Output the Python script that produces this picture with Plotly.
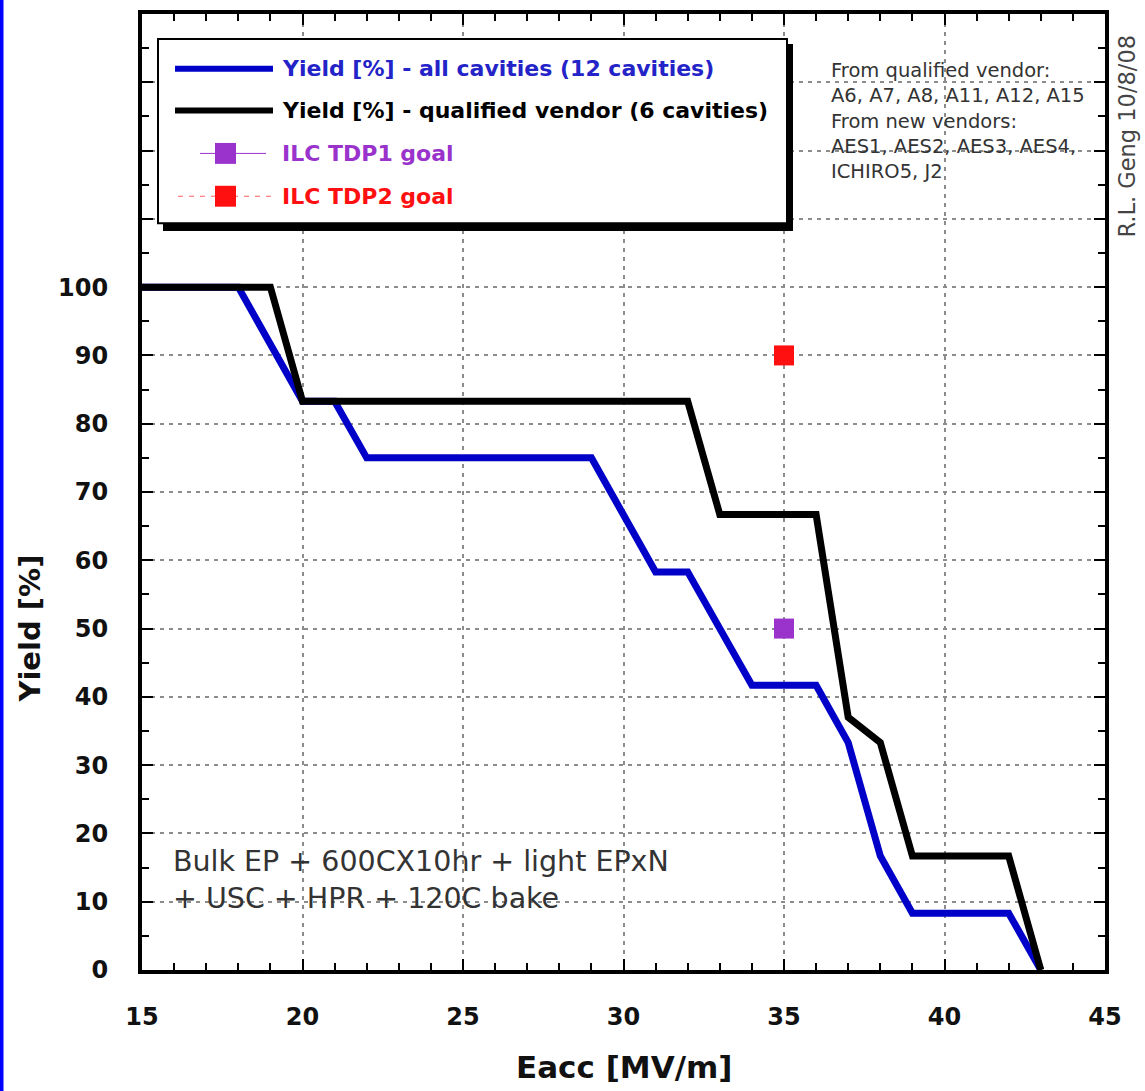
import plotly.graph_objects as go

# ---------------- data ----------------
all_x = [15, 18, 20, 21, 22, 29, 31, 32, 34, 36, 37, 38, 39, 42, 43]
all_y = [100, 100, 83.3, 83.3, 75, 75, 58.3, 58.3, 41.7, 41.7, 33.3, 16.7, 8.3, 8.3, 0]
qual_x = [15, 19, 20, 32, 33, 36, 37, 38, 39, 42, 43]
qual_y = [100, 100, 83.3, 83.3, 66.7, 66.7, 37, 33.3, 16.7, 16.7, 0]
tdp1_x = [35]
tdp1_y = [50]
tdp2_x = [35]
tdp2_y = [90]

x_ticks = [15, 20, 25, 30, 35, 40, 45]
y_ticks = [0, 10, 20, 30, 40, 50, 60, 70, 80, 90, 100, 110, 120, 130, 140]
y_ticktext = [str(v) if v <= 100 else "" for v in y_ticks]

BLUE = "#0000c8"
PURPLE = "#9933cc"
RED = "#ff1010"

# ---------------- layout helpers (pixel -> paper) ----------------
W, H = 1145, 1091
L, R, T, B = 142, 1105, 10, 970


def px(x):
    return (x - L) / (R - L)


def py(y):
    return (B - y) / (B - T)


fig = go.Figure()
fig.add_trace(go.Scatter(x=all_x, y=all_y, mode="lines",
                         line=dict(color=BLUE, width=7), showlegend=False))
fig.add_trace(go.Scatter(x=qual_x, y=qual_y, mode="lines",
                         line=dict(color="black", width=7), showlegend=False))
fig.add_trace(go.Scatter(x=tdp1_x, y=tdp1_y, mode="markers",
                         marker=dict(symbol="square", size=20, color=PURPLE), showlegend=False))
fig.add_trace(go.Scatter(x=tdp2_x, y=tdp2_y, mode="markers",
                         marker=dict(symbol="square", size=20, color=RED), showlegend=False))

shapes = []
# blue strip at left edge of image
shapes.append(dict(type="rect", xref="paper", yref="paper",
                   x0=px(0), x1=px(3.5), y0=py(H + 5), y1=py(-5),
                   fillcolor="#0000ff", line=dict(width=0), layer="above"))
# legend box shadow + box
shapes.append(dict(type="rect", xref="paper", yref="paper",
                   x0=px(163), x1=px(793), y0=py(228), y1=py(40),
                   fillcolor="black", line=dict(width=0), layer="above"))
shapes.append(dict(type="rect", xref="paper", yref="paper",
                   x0=px(158), x1=px(787), y0=py(220), y1=py(35),
                   fillcolor="white", line=dict(color="black", width=2), layer="above"))
# legend samples
shapes.append(dict(type="line", xref="paper", yref="paper",
                   x0=px(175), x1=px(273), y0=py(65), y1=py(65),
                   line=dict(color=BLUE, width=6), layer="above"))
shapes.append(dict(type="line", xref="paper", yref="paper",
                   x0=px(175), x1=px(273), y0=py(107), y1=py(107),
                   line=dict(color="black", width=6), layer="above"))
shapes.append(dict(type="line", xref="paper", yref="paper",
                   x0=px(200), x1=px(266), y0=py(150), y1=py(150),
                   line=dict(color=PURPLE, width=1), layer="above"))
shapes.append(dict(type="rect", xref="paper", yref="paper",
                   x0=px(215), x1=px(236), y0=py(160.5), y1=py(139.5),
                   fillcolor=PURPLE, line=dict(width=0), layer="above"))
shapes.append(dict(type="line", xref="paper", yref="paper",
                   x0=px(178), x1=px(273), y0=py(193), y1=py(193),
                   line=dict(color="#ff6060", width=1, dash="5px,6px"), layer="above"))
shapes.append(dict(type="rect", xref="paper", yref="paper",
                   x0=px(215), x1=px(236), y0=py(203.5), y1=py(182.5),
                   fillcolor=RED, line=dict(width=0), layer="above"))

bold = dict(family="DejaVu Sans", weight="bold")
annotations = []
leg_items = [
    ("Yield [%] - all cavities (12 cavities)", 65, "#2323c8"),
    ("Yield [%] - qualified vendor (6 cavities)", 107, "black"),
    ("ILC TDP1 goal", 150, PURPLE),
    ("ILC TDP2 goal", 193, RED),
]
for txt, yy, col in leg_items:
    annotations.append(dict(text=txt, xref="paper", yref="paper", x=px(280), y=py(yy),
                            xanchor="left", yanchor="middle", showarrow=False,
                            font=dict(size=22, color=col, **bold)))

annotations.append(dict(
    text="From qualified vendor:<br>A6, A7, A8, A11, A12, A15<br>From new vendors:<br>"
         "AES1, AES2, AES3, AES4,<br>ICHIRO5, J2",
    xref="paper", yref="paper", x=px(829), y=py(53), xanchor="left", yanchor="top",
    align="left", showarrow=False,
    font=dict(family="DejaVu Sans", size=19.5, color="#333333")))
annotations.append(dict(
    text="R.L. Geng 10/8/08", xref="paper", yref="paper", x=px(1127), y=py(133),
    xanchor="center", yanchor="middle", textangle=-90, showarrow=False,
    font=dict(family="DejaVu Sans", size=22.5, color="#444444")))
annotations.append(dict(
    text="Bulk EP + 600CX10hr + light EPxN<br>+ USC + HPR + 120C bake",
    xref="paper", yref="paper", x=px(171), y=py(880), xanchor="left", yanchor="middle",
    align="left", showarrow=False,
    font=dict(family="DejaVu Sans", size=28.5, color="#333333")))
annotations.append(dict(
    text="Eacc [MV/m]", xref="paper", yref="paper", x=0.5, y=py(1067),
    xanchor="center", yanchor="middle", showarrow=False,
    font=dict(size=31, color="#111111", **bold)))
annotations.append(dict(
    text="Yield [%]", xref="paper", yref="y", x=px(30), y=50,
    xanchor="center", yanchor="middle", textangle=-90, showarrow=False,
    font=dict(size=29, color="#111111", **bold)))

axis_common = dict(
    showline=True, linecolor="black", linewidth=4, mirror="allticks",
    ticks="inside", tickcolor="black", tickwidth=2,
    showgrid=True, gridcolor="#8c8c8c", gridwidth=1.5, griddash="4px,5px",
    zeroline=False, tickfont=dict(size=24, color="#111111", **bold),
)

fig.update_layout(
    width=W, height=H,
    margin=dict(l=L, r=W - R, t=T, b=H - B),
    paper_bgcolor="white", plot_bgcolor="white",
    showlegend=False,
    xaxis=dict(range=[15, 45], tickmode="array", tickvals=x_ticks, ticklen=11,
               ticklabelstandoff=22,
               minor=dict(dtick=1, tick0=15, ticks="inside", ticklen=7, tickcolor="black",
                          tickwidth=2, showgrid=False),
               **axis_common),
    yaxis=dict(range=[0, 140], tickmode="array", tickvals=y_ticks, ticktext=y_ticktext,
               ticklen=11, ticklabelstandoff=25,
               minor=dict(dtick=5, tick0=0, ticks="inside", ticklen=7, tickcolor="black",
                          tickwidth=2, showgrid=False),
               **axis_common),
    shapes=shapes,
    annotations=annotations,
)

fig.write_html("out.html")
